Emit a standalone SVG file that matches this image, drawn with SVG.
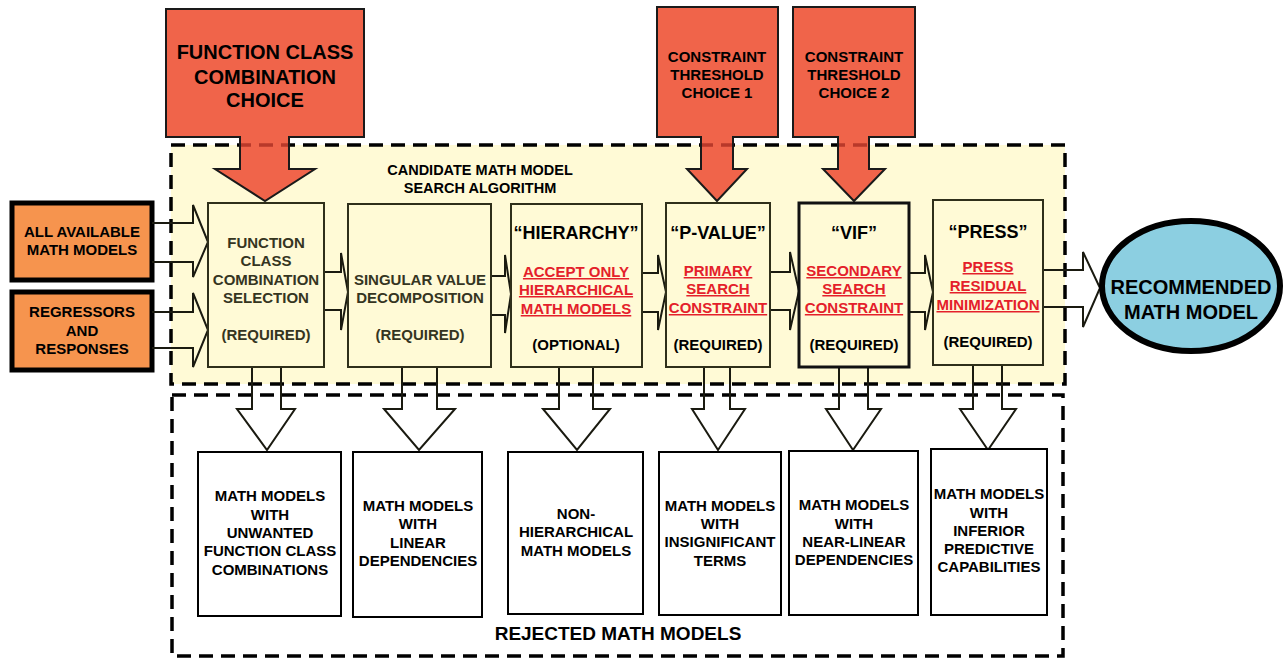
<svg xmlns="http://www.w3.org/2000/svg" width="1286" height="660" viewBox="0 0 1286 660">
<style>
text{font-family:"Liberation Sans",Arial,sans-serif;font-weight:bold;text-anchor:middle}
.t20{font-size:20px;fill:#000}
.t15{font-size:15px;fill:#000}
.t14{font-size:14.5px;fill:#000}
.pt{font-size:15px;fill:#35351f}
.ttl{font-size:18px;fill:#000}
.red{font-size:15px;fill:#e4202a;text-decoration:underline}
.rej{font-size:19px;fill:#000}
.dash{fill:none;stroke:#000;stroke-width:3.5;stroke-dasharray:14 8}
.redarrow{fill:#f0644a;stroke:#1a1a1a;stroke-width:2}
.inbox{fill:#f6944e;stroke:#000;stroke-width:5}
.proc{fill:#fffad6;stroke:#2f2f1a;stroke-width:2}
.bot{fill:#fff;stroke:#000;stroke-width:2}
.conn{fill:none;stroke:#1a1a10;stroke-width:2;stroke-linejoin:miter}
</style>
<defs>
<clipPath id="shafts">
<rect x="241" y="138" width="47" height="30"/>
<rect x="702" y="138" width="30" height="30"/>
<rect x="839" y="138" width="29" height="30"/>
</clipPath>
</defs>
<rect width="1286" height="660" fill="#fff"/>

<g id="candidate-region">
<rect x="171" y="145" width="894" height="239" fill="#fffad6"/>
<rect x="171" y="145" width="894" height="239" class="dash"/>
<text class="t14" x="480" y="175">CANDIDATE MATH MODEL</text>
<text class="t14" x="480" y="193">SEARCH ALGORITHM</text>
</g>

<g id="rejected-region">
<rect x="172" y="395" width="891" height="261" class="dash"/>
<text class="rej" x="618" y="640">REJECTED MATH MODELS</text>
</g>

<g id="choice-function-class">
<polygon class="redarrow" points="166,9 364,9 364,137 289,137 289,169 315,169 265,201 215,169 240,169 240,137 166,137"/>
<text class="t20" x="265" y="59">FUNCTION CLASS</text>
<text class="t20" x="265" y="84">COMBINATION</text>
<text class="t20" x="265" y="107">CHOICE</text>
</g>
<g id="choice-threshold-1">
<polygon class="redarrow" points="657,7 778,7 778,137 733,137 733,169 747,169 717,201 687,169 701,169 701,137 657,137"/>
<text class="t15" x="717" y="62">CONSTRAINT</text>
<text class="t15" x="717" y="80">THRESHOLD</text>
<text class="t15" x="717" y="98">CHOICE 1</text>
</g>
<g id="choice-threshold-2">
<polygon class="redarrow" points="793,7 915,7 915,137 869,137 869,169 885,169 854,201 823,169 838,169 838,137 793,137"/>
<text class="t15" x="854" y="62">CONSTRAINT</text>
<text class="t15" x="854" y="80">THRESHOLD</text>
<text class="t15" x="854" y="98">CHOICE 2</text>
</g>
<line x1="171" y1="145" x2="1065" y2="145" stroke="#b8392a" stroke-width="3.5" stroke-dasharray="14 8" clip-path="url(#shafts)"/>

<g id="input-all-models">
<rect x="12" y="203" width="140" height="77" class="inbox"/>
<text class="t15" x="82" y="237">ALL AVAILABLE</text>
<text class="t15" x="82" y="255">MATH MODELS</text>
</g>
<g id="input-regressors">
<rect x="12" y="292" width="140" height="78" class="inbox"/>
<text class="t15" x="82" y="317">REGRESSORS</text>
<text class="t15" x="82" y="336">AND</text>
<text class="t15" x="82" y="354">RESPONSES</text>
</g>

<g id="connectors">
<polyline class="conn" points="152,223 193,223 193,205 208,242 193,277 193,262 152,262"/>
<polyline class="conn" points="152,312 193,312 193,293 208,330 193,367 193,348 152,348"/>
<polyline class="conn" points="324,272 341,272 341,253 348,292 341,330 341,310 324,310"/>
<polyline class="conn" points="491,276 505,276 505,255 511,294 505,333 505,315 491,315"/>
<polyline class="conn" points="642,273 658,273 658,255 666,292 658,330 658,312 642,312"/>
<polyline class="conn" points="770,272 790,272 790,252 799,291 790,330 790,310 770,310"/>
<polyline class="conn" points="909,273 925,273 925,255 933,292 925,330 925,312 909,312"/>
<polyline class="conn" points="1043,270 1083,270 1083,252 1100,288 1083,327 1083,307 1043,307"/>
<polyline class="conn" points="252,367 252,409 237,409 267,450 295,409 281,409 281,367"/>
<polyline class="conn" points="402,367 402,409 384,409 419,450 455,409 437,409 437,367"/>
<polyline class="conn" points="559,367 559,409 543,409 577,450 610,409 593,409 593,367"/>
<polyline class="conn" points="704,367 704,409 692,409 718,450 745,409 730,409 730,367"/>
<polyline class="conn" points="839,367 839,409 826,409 853,450 881,409 868,409 868,367"/>
<polyline class="conn" points="973,365 973,409 960,409 988,450 1016,409 1002,409 1002,365"/>
</g>

<g id="step-function-class">
<rect x="208" y="203" width="116" height="164" class="proc"/>
<text class="pt" x="266" y="248">FUNCTION</text>
<text class="pt" x="266" y="266">CLASS</text>
<text class="pt" x="266" y="285">COMBINATION</text>
<text class="pt" x="266" y="303">SELECTION</text>
<text class="pt" x="266" y="340">(REQUIRED)</text>
</g>
<g id="step-svd">
<rect x="348" y="204" width="143" height="163" class="proc"/>
<text class="pt" x="420" y="285">SINGULAR VALUE</text>
<text class="pt" x="420" y="303">DECOMPOSITION</text>
<text class="pt" x="420" y="340">(REQUIRED)</text>
</g>
<g id="step-hierarchy">
<rect x="511" y="204" width="131" height="163" class="proc"/>
<text class="ttl" x="576" y="239">“HIERARCHY”</text>
<text class="red" x="576" y="277">ACCEPT ONLY</text>
<text class="red" x="576" y="295">HIERARCHICAL</text>
<text class="red" x="576" y="314">MATH MODELS</text>
<text class="t15" x="576" y="350">(OPTIONAL)</text>
</g>
<g id="step-pvalue">
<rect x="666" y="203" width="104" height="164" class="proc"/>
<text class="ttl" x="718" y="239">“P-VALUE”</text>
<text class="red" x="718" y="276">PRIMARY</text>
<text class="red" x="718" y="294">SEARCH</text>
<text class="red" x="718" y="313">CONSTRAINT</text>
<text class="t15" x="718" y="350">(REQUIRED)</text>
</g>
<g id="step-vif">
<rect x="799" y="203" width="110" height="164" class="proc" stroke-width="3" style="stroke:#111;stroke-width:3"/>
<text class="ttl" x="854" y="239">“VIF”</text>
<text class="red" x="854" y="276">SECONDARY</text>
<text class="red" x="854" y="294">SEARCH</text>
<text class="red" x="854" y="313">CONSTRAINT</text>
<text class="t15" x="854" y="350">(REQUIRED)</text>
</g>
<g id="step-press">
<rect x="933" y="200" width="110" height="165" class="proc"/>
<text class="ttl" x="988" y="238">“PRESS”</text>
<text class="red" x="988" y="272">PRESS</text>
<text class="red" x="988" y="291">RESIDUAL</text>
<text class="red" x="988" y="310">MINIMIZATION</text>
<text class="t15" x="988" y="347">(REQUIRED)</text>
</g>

<g id="recommended">
<ellipse cx="1191" cy="286" rx="89" ry="65" fill="#8ccfe1" stroke="#000" stroke-width="6"/>
<text class="t20" x="1191" y="294">RECOMMENDED</text>
<text class="t20" x="1191" y="319">MATH MODEL</text>
</g>

<g id="rejected-function-class">
<rect x="198" y="452" width="143" height="164" class="bot"/>
<text class="t15" x="270" y="501">MATH MODELS</text>
<text class="t15" x="270" y="520">WITH</text>
<text class="t15" x="270" y="538">UNWANTED</text>
<text class="t15" x="270" y="556">FUNCTION CLASS</text>
<text class="t15" x="270" y="575">COMBINATIONS</text>
</g>
<g id="rejected-linear">
<rect x="353" y="452" width="129" height="165" class="bot"/>
<text class="t15" x="418" y="511">MATH MODELS</text>
<text class="t15" x="418" y="529">WITH</text>
<text class="t15" x="418" y="548">LINEAR</text>
<text class="t15" x="418" y="566">DEPENDENCIES</text>
</g>
<g id="rejected-nonhierarchical">
<rect x="508" y="452" width="135" height="162" class="bot"/>
<text class="t15" x="576" y="519">NON-</text>
<text class="t15" x="576" y="537">HIERARCHICAL</text>
<text class="t15" x="576" y="556">MATH MODELS</text>
</g>
<g id="rejected-insignificant">
<rect x="659" y="452" width="122" height="163" class="bot"/>
<text class="t15" x="720" y="511">MATH MODELS</text>
<text class="t15" x="720" y="529">WITH</text>
<text class="t15" x="720" y="547">INSIGNIFICANT</text>
<text class="t15" x="720" y="566">TERMS</text>
</g>
<g id="rejected-near-linear">
<rect x="789" y="451" width="129" height="164" class="bot"/>
<text class="t15" x="854" y="510">MATH MODELS</text>
<text class="t15" x="854" y="529">WITH</text>
<text class="t15" x="854" y="547">NEAR-LINEAR</text>
<text class="t15" x="854" y="565">DEPENDENCIES</text>
</g>
<g id="rejected-inferior">
<rect x="931" y="449" width="116" height="166" class="bot"/>
<text class="t15" x="989" y="499">MATH MODELS</text>
<text class="t15" x="989" y="518">WITH</text>
<text class="t15" x="989" y="536">INFERIOR</text>
<text class="t15" x="989" y="554">PREDICTIVE</text>
<text class="t15" x="989" y="572">CAPABILITIES</text>
</g>
</svg>
